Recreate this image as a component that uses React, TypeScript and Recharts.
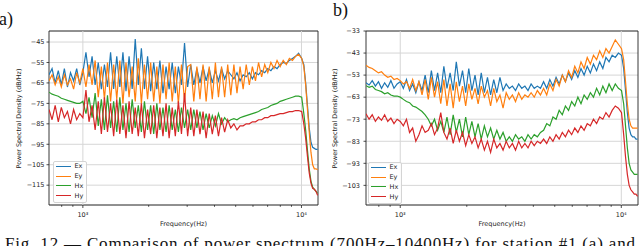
import React from 'react';
import { LineChart, Line, XAxis, YAxis, CartesianGrid, ReferenceLine, ReferenceArea, Legend } from 'recharts';

const freqs = [700, 723, 747, 772, 797, 823, 850, 878, 907, 937, 968,
  1000, 1033, 1067, 1102, 1138, 1176, 1215, 1255, 1296, 1339, 1383, 1429, 1476, 1525, 1575, 1627, 1681, 1736, 1793, 1852, 1913,
  1977, 2042, 2109, 2179, 2251, 2325, 2402, 2481, 2563, 2648, 2735, 2825, 2918, 3015, 3114, 3217, 3323, 3433, 3546, 3663, 3784, 3909,
  4038, 4171, 4309, 4451, 4598, 4750, 4907, 5069, 5236, 5409, 5587, 5772, 5962, 6159, 6362, 6572, 6789, 7013, 7245, 7484, 7731, 7986, 8250, 8522, 8803, 9094, 9394, 9704,
  10024, 10250, 10450, 10650, 10850, 11050, 11250, 11450, 11650, 11850];

const xTicks = [800, 900, 1000, 2000, 3000, 4000, 5000, 6000, 7000, 8000, 9000, 10000];
const yTicksA = [-115, -105, -95, -85, -75, -65, -55, -45];
const yTicksB = [-103, -93, -83, -73, -63, -53, -43, -33];
const seriesNames = ['Ex', 'Ey', 'Hx', 'Hy'];
const seriesColors = ['#1f77b4', '#ff7f0e', '#2ca02c', '#d62728'];

// Panel a) station #1
const exA = [-61, -58, -65, -59, -66, -58, -67, -60, -64, -58, -66,
  -60, -50, -62, -52,
  -66, -55, -68, -56, -67, -50, -68, -52, -67, -50, -69, -52, -68, -43.5, -66, -48, -68, -52, -69, -55, -68, -54, -70, -57, -68, -55, -70, -57, -66, -45.5, -67,
  -56, -66, -58, -65, -57, -64, -58, -65, -59, -64, -58, -63, -59,
  -61, -63, -60, -64, -61, -62, -60, -63, -60, -61, -59, -60, -58, -59, -57, -58, -56,
  -55, -55.5, -54, -53, -52, -50.5, -53,
  -56, -65, -76, -87, -94, -96.5, -97, -97.5, -97.5];
const eyA = [-64, -61, -66, -62, -67, -61, -66, -63, -68, -60, -65,
  -58, -67, -56, -66,
  -54, -72, -57, -73, -55, -74, -56, -73, -54, -75, -55, -72, -57, -74, -53, -75, -56, -73, -55, -74, -57, -75, -56, -73, -55, -74, -57, -75, -56, -74, -57,
  -56, -74, -57, -73, -56, -74, -57, -73, -55, -72, -57, -72, -56,
  -71, -56, -70, -57, -68, -56, -66, -57, -64, -55, -62, -56, -60, -55, -58, -54, -57,
  -54, -56, -53, -54, -52, -51, -53,
  -57, -66, -78, -89, -99, -105, -107, -107, -107.5];
const hxA = [-69.5, -70.5, -71, -71.5, -72.5, -73, -73.5, -74, -74.5, -75, -75,
  -74, -80, -72, -82,
  -70, -86, -73, -88, -71, -87, -74, -89, -72, -88, -75, -89, -73, -87, -76, -89, -74, -88, -76, -90, -75, -88, -77, -89, -76, -88, -78, -89, -77, -87, -78,
  -88, -78, -87, -79, -88, -80, -87, -81, -86, -80, -85, -82, -84,
  -83, -82.5, -83, -82, -81.5, -81, -80.5, -80, -79.5, -79, -78, -77.5, -77, -76, -75.5, -75, -74,
  -73.5, -73, -72.5, -72, -71.5, -71.5, -72,
  -80, -88, -98, -107, -113, -116, -117, -118, -119];
const hyA = [-78, -83, -76, -84, -77, -82, -79, -85, -78, -83, -80,
  -82, -68.5, -84, -76,
  -88, -74, -90, -72, -89, -75, -91, -73, -90, -76, -92, -74, -90, -77, -91, -75, -92, -78, -90, -76, -92, -77, -91, -75, -92, -77, -91, -74, -90, -70, -91,
  -77, -91, -78, -90, -79, -92, -80, -90, -81, -91, -82, -89, -83,
  -87, -85, -88, -86, -86, -85, -85, -84, -84, -83, -83, -82, -82, -81, -81, -80.5, -80,
  -80, -79.5, -79, -79, -78.5, -78.5, -79,
  -85, -92, -101, -109, -114, -116.5, -117, -118, -120];

// Panel b)
const exB = [-56.5, -57.5, -55.5, -58, -56, -59, -56.5, -58.5, -55.5, -59, -57,
  -56, -59, -55, -60, -57, -61, -56,
  -60, -53, -61, -51, -60, -52, -61, -49, -59, -52, -60, -47, -58, -51, -61, -50, -60, -53, -62, -52, -61, -54, -62, -55, -61,
  -54, -60, -57, -59, -58, -60, -57, -59, -58, -60, -57, -59, -58, -59,
  -56, -59, -55, -58, -54, -57, -53, -56, -52, -55, -51, -54, -50, -53, -49, -52, -48, -51, -47, -50, -45, -47, -44, -45, -43, -44,
  -50, -60, -70, -77, -80, -81, -81, -82, -82];
const eyB = [-48.5, -49.5, -50, -51, -52, -51.5, -53, -54, -53.5, -55, -54.5,
  -55.5, -57, -56, -59, -55, -60, -56,
  -62, -55, -64, -54, -63, -56, -66, -55, -67, -57, -68, -56, -65, -58, -67, -57, -64, -59, -66, -58, -63, -60, -67, -59, -65,
  -62, -68, -61, -64, -62, -65, -61, -64, -62, -63, -61, -63, -60, -62,
  -59, -62, -57, -60, -55, -58, -53, -56, -51, -54, -49, -52, -47, -50, -45, -48, -44, -46, -42, -45, -41, -43, -40, -37, -39, -41,
  -46, -56, -66, -73, -76, -77, -77, -77, -77];
const hxB = [-57.8, -58.5, -58, -59.5, -60, -60.5, -61.5, -61, -62, -62.5, -62.5,
  -63, -64, -65, -65.5, -67, -67.5, -68.5, -69.5, -71, -73,
  -76, -73, -78, -74, -79, -72, -80, -71, -79, -73, -81, -72, -80, -74, -81, -75, -82, -76, -81, -77, -82, -78, -82, -79, -83,
  -81, -83, -80, -82, -81, -83, -80, -82, -80, -81, -79,
  -78, -75, -76, -72, -73, -69, -71, -67, -69, -65, -67, -63, -66, -62, -64, -61, -63, -59, -62, -58, -61, -57, -60, -57, -59, -60,
  -66, -76, -86, -93, -96, -97, -98, -98, -98];
const hyB = [-70.5, -73, -71, -74, -72, -73.5, -71, -74, -72.5, -75, -73,
  -74, -76, -73, -79, -77, -83, -80,
  -76, -79, -78, -75, -80, -77, -70, -79, -82, -77, -84, -78, -83, -79, -85, -80, -84, -81, -86, -82, -87, -83, -88, -82, -86,
  -84, -87, -83, -86, -84, -87, -83, -86, -84, -86, -83, -85, -83, -84,
  -82, -84, -81, -83, -80, -82, -79, -81, -78, -80, -77, -79, -76, -78, -75, -76, -73, -75, -72, -73, -70, -72, -69, -67, -68, -70,
  -80, -90, -98, -103, -105, -106, -107, -107, -108];

const buildRows = (ex: number[], ey: number[], hx: number[], hy: number[]) =>
  freqs.map((f, i) => ({ f, Ex: ex[i], Ey: ey[i], Hx: hx[i], Hy: hy[i] }));

const dataA = buildRows(exA, eyA, hxA, hyA);
const dataB = buildRows(exB, eyB, hxB, hyB);

const SANS = 'DejaVu Sans';
const TXT = '#222';

const XTick = (props: any) => {
  const { x, y, payload } = props;
  const v = payload.value;
  const major = v === 1000 || v === 10000;
  return (
    <g>
      <line x1={x} x2={x} y1={y} y2={y + (major ? 3 : 1.8)} stroke={TXT} strokeWidth={0.8} />
      {major && (
        <text x={x} y={y + 11.5} textAnchor="middle" fontSize={6.5} fontFamily={SANS} fill={TXT}>
          {v === 1000 ? '10³' : '10⁴'}
        </text>
      )}
    </g>
  );
};

const XTitle = (props: any) => (
  <text x={props.cx} y={225.5} textAnchor="middle" fontSize={6.5} fontFamily={SANS} fill={TXT}>Frequency(Hz)</text>
);

const YTitle = (props: any) => (
  <text x={props.bx} y={118.5} transform={`rotate(-90 ${props.bx} 118.5)`} textAnchor="middle" fontSize={6.4} fontFamily={SANS} fill={TXT}>
    Power Spectral Density (dB/Hz)
  </text>
);

const LegendBox = (props: any) => {
  const { payload } = props;
  return (
    <div style={{
      border: '1px solid #d4d4d4', borderRadius: 2, background: 'rgba(255,255,255,0.85)',
      width: 34, height: 42, boxSizing: 'border-box', padding: '0 0 0 2px',
      fontFamily: SANS, fontSize: 6.5, color: TXT, lineHeight: 1,
    }}>
      {(payload || []).map((e: any) => (
        <div key={e.value} style={{ height: 9.8, display: 'flex', alignItems: 'center' }}>
          <span style={{ display: 'inline-block', width: 15, height: 0, borderTop: `1.3px solid ${e.color}`, marginRight: 4 }} />
          <span>{e.value}</span>
        </div>
      ))}
    </div>
  );
};

const fmt = (v: number) => String(v).replace('-', '−');

type PanelProps = {
  left: number;
  data: any[];
  yDomain: [number, number];
  yTicks: number[];
  yWidth: number;
  tickGap: number;
  legendLeft: number;
  legendTop: number;
  titleX: number;
  xTitleCx: number;
};

const Panel = ({ left, data, yDomain, yTicks, yWidth, tickGap, legendLeft, legendTop, titleX, xTitleCx }: PanelProps) => (
  <div style={{ position: 'absolute', left, top: 0, width: 320, height: 246 }}>
    <LineChart width={320} height={246} data={data} margin={{ top: 31, right: 2, bottom: 21, left: 0 }}>
      <CartesianGrid vertical={false} stroke="#d6d6d6" strokeWidth={1} />
      <ReferenceLine x={1000} stroke="#d6d6d6" strokeWidth={1} />
      <ReferenceLine x={10000} stroke="#d6d6d6" strokeWidth={1} />
      <XAxis
        dataKey="f" type="number" scale="log" domain={[700, 11900]} allowDataOverflow
        ticks={xTicks} interval={0} tick={<XTick />} tickLine={false} axisLine={false}
        tickSize={0} tickMargin={0} height={20}
        label={<XTitle cx={xTitleCx} />}
      />
      <YAxis
        type="number" domain={yDomain} allowDataOverflow ticks={yTicks} interval={0}
        width={yWidth} axisLine={false} tickLine={{ stroke: TXT, strokeWidth: 0.8 }} tickSize={2.5} tickMargin={tickGap}
        tick={{ fontSize: 6.5, fill: TXT, fontFamily: SANS }} tickFormatter={fmt}
        label={<YTitle bx={titleX} />}
      />
      {seriesNames.map((n, k) => (
        <Line key={n} dataKey={n} name={n} stroke={seriesColors[k]} strokeWidth={1.2} dot={false}
          type="linear" isAnimationActive={false} />
      ))}
      <ReferenceArea x1={700} x2={11900} y1={yDomain[0]} y2={yDomain[1]} fill="none" fillOpacity={0}
        stroke="#222" strokeWidth={0.9} ifOverflow="visible" />
      <Legend layout="vertical" align="center" verticalAlign="middle" content={<LegendBox />}
        wrapperStyle={{ left: legendLeft, top: legendTop, width: 34, height: 42 }} />
    </LineChart>
  </div>
);

export default function App() {
  return (
    <div style={{ position: 'absolute', left: 0, top: 0, width: 640, height: 246, background: '#fff', overflow: 'hidden' }}>
      <Panel left={0} data={dataA} yDomain={[-124.7, -39.6]} yTicks={yTicksA} yWidth={49} tickGap={2}
        legendLeft={52.5} legendTop={160.5} titleX={20.5} xTitleCx={183.5} />
      <Panel left={320} data={dataB} yDomain={[-111.9, -33]} yTicks={yTicksB} yWidth={46} tickGap={3.5}
        legendLeft={47.5} legendTop={161.5} titleX={16.5} xTitleCx={182} />
      <svg width={640} height={246} style={{ position: 'absolute', left: 0, top: 0, pointerEvents: 'none' }}>
        <text x={-1} y={25} fontSize={18} fontFamily="Liberation Serif" fill="#111">a)</text>
        <text x={333} y={15.5} fontSize={18} fontFamily="Liberation Serif" fill="#111">b)</text>
        <text x={5} y={249} fontSize={17} fontFamily="Liberation Serif" fill="#111" textLength={630} lengthAdjust="spacing">
          Fig. 12 — Comparison of power spectrum (700Hz–10400Hz) for station #1 (a) and
        </text>
      </svg>
    </div>
  );
}
